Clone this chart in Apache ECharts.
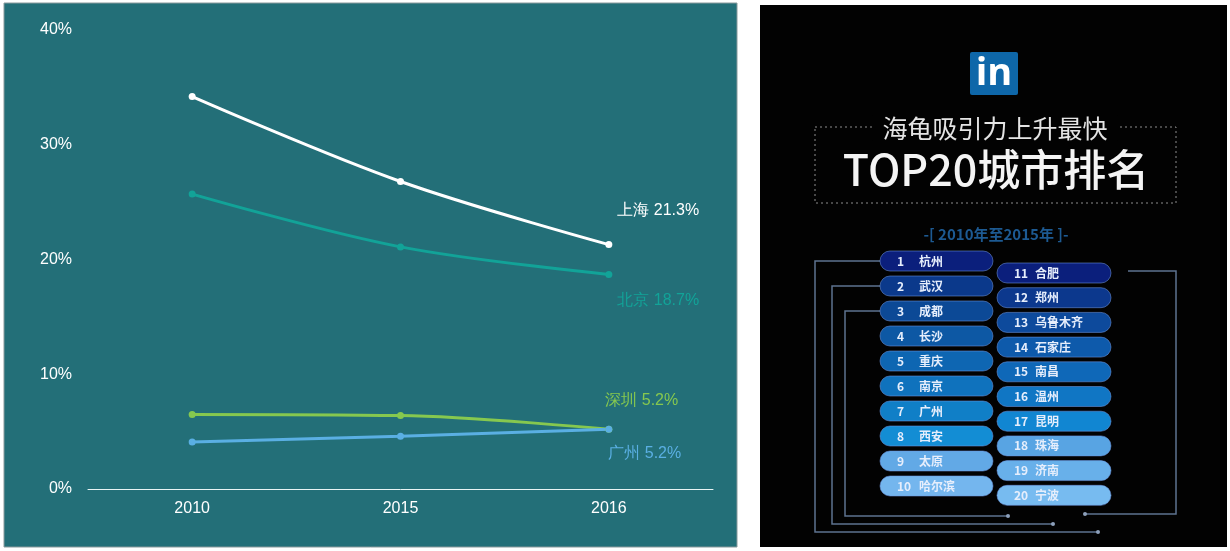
<!DOCTYPE html>
<html>
<head>
    <meta charset="utf-8" />
    <title>海龟城市</title>
    <script src="https://cdn.jsdelivr.net/npm/echarts@6/dist/echarts.min.js"></script>
    <style>
        html, body { margin: 0; padding: 0; background: #fff; }
        #container { width: 1230px; height: 551px; }
    </style>
</head>
<body>
    <div id="container"></div>
    <script>
        // chart data
        var years = ['2010', '2015', '2016'];
        var shanghai = [34.2, 26.8, 21.3];
        var beijing = [25.7, 21.1, 18.7];
        var shenzhen = [6.5, 6.4, 5.2];
        var guangzhou = [4.1, 4.6, 5.2];
        var yTicks = [0, 10, 20, 30, 40];

        // infographic list (rank order)
        var leftCities = ['杭州', '武汉', '成都', '长沙', '重庆', '南京', '广州', '西安', '太原', '哈尔滨'];
        var rightCities = ['合肥', '郑州', '乌鲁木齐', '石家庄', '南昌', '温州', '昆明', '珠海', '济南', '宁波'];

        var leftColors = ['#0b1f7c', '#0b398b', '#0c4996', '#0d58a4', '#0e66b2', '#0f72bd', '#107fc7', '#138dd4', '#62a9e6', '#74b6ee'];
        var rightColors = ['#0b1f7c', '#0c388d', '#0d4a9c', '#0e5aab', '#0f68b8', '#1076c4', '#1186d2', '#58a4e3', '#68b0ea', '#77bbf0'];

        var dom = document.getElementById('container');
        var myChart = echarts.init(dom);

        function endLabel(name, value, color, offset) {
            return {
                value: value,
                label: {
                    show: true,
                    position: 'right',
                    offset: offset,
                    color: color,
                    fontSize: 16,
                    fontFamily: 'Liberation Sans, Arial',
                    formatter: name + ' ' + value + '%'
                }
            };
        }

        function lineSeries(name, data, color, offset) {
            var d = data.slice(0, data.length - 1);
            d.push(endLabel(name, data[data.length - 1], color, offset));
            return {
                name: name,
                type: 'line',
                smooth: 0.35,
                data: d,
                symbol: 'circle',
                symbolSize: 7,
                itemStyle: { color: color },
                lineStyle: { color: color, width: 3 },
                z: 5
            };
        }

        // right panel built with graphic elements
        var g = [];
        g.push({ type: 'rect', shape: { x: 4, y: 3, width: 733, height: 544 }, style: { fill: '#236f78', stroke: '#8a9a9c', lineWidth: 1 }, z: -10 });
        g.push({ type: 'rect', shape: { x: 760, y: 5, width: 467, height: 542 }, style: { fill: '#020202' }, z: -10 });

        // logo
        g.push({ type: 'rect', shape: { x: 970, y: 52, width: 48, height: 43, r: 2 }, style: { fill: '#0e67a9' } });
        g.push({ type: 'text', x: 994, y: 74, style: { text: 'in', fill: '#fff', fontSize: 38, fontWeight: 'bold', fontFamily: 'Open Sans, Arial', align: 'center', verticalAlign: 'middle' } });

        // title box
        g.push({ type: 'rect', shape: { x: 815, y: 127, width: 361, height: 76 }, style: { fill: 'none', stroke: '#8c8c8c', lineWidth: 1, lineDash: [2, 3] } });
        g.push({ type: 'text', x: 995, y: 128, style: { text: '海龟吸引力上升最快', fill: '#e4e4e4', fontSize: 25, fontFamily: 'Noto Sans CJK SC', align: 'center', verticalAlign: 'middle', backgroundColor: '#020202', padding: [0, 10] } });
        g.push({ type: 'text', x: 996, y: 170, style: { text: 'TOP20城市排名', fill: '#f4f4f4', fontSize: 43, fontWeight: 500, fontFamily: 'Noto Sans CJK SC', align: 'center', verticalAlign: 'middle' } });
        g.push({ type: 'text', x: 996, y: 234, style: { text: '-[ 2010年至2015年 ]-', fill: '#1d5a92', fontSize: 15, fontWeight: 'bold', fontFamily: 'Noto Sans CJK SC', align: 'center', verticalAlign: 'middle' } });

        // connectors
        var connColor = '#5e7390';
        var conns = [
            [[880, 261], [815, 261], [815, 532], [1098, 532]],
            [[880, 286], [832, 286], [832, 524], [1053, 524]],
            [[880, 311], [845, 311], [845, 516], [1008, 516]],
            [[1128, 271], [1176, 271], [1176, 514], [1085, 514]]
        ];
        conns.forEach(function (pts) {
            g.push({ type: 'polyline', shape: { points: pts }, style: { stroke: connColor, lineWidth: 1.5, fill: null } });
            var e = pts[pts.length - 1];
            g.push({ type: 'circle', shape: { cx: e[0], cy: e[1], r: 2 }, style: { fill: '#8da0bb' } });
        });

        function pill(x, cy, w, rank, city, color, cityX) {
            g.push({ type: 'rect', shape: { x: x, y: cy - 10, width: w, height: 20, r: 10 }, style: { fill: color, stroke: 'rgba(110,150,225,0.55)', lineWidth: 1 }, z: 2 });
            g.push({ type: 'text', x: x + 17, y: cy, style: { text: String(rank), fill: '#e6eefc', fontSize: 12, fontWeight: 'bold', fontFamily: 'Noto Sans CJK SC', verticalAlign: 'middle' }, z: 3 });
            g.push({ type: 'text', x: cityX, y: cy, style: { text: city, fill: '#e6eefc', fontSize: 12, fontWeight: 'bold', fontFamily: 'Noto Sans CJK SC', verticalAlign: 'middle' }, z: 3 });
        }
        leftCities.forEach(function (c, i) {
            pill(880, 261 + 25 * i, 113, i + 1, c, leftColors[i], 919);
        });
        rightCities.forEach(function (c, i) {
            pill(997, 273 + 24.7 * i, 114, i + 11, c, rightColors[i], 1035);
        });

        var option = {
            backgroundColor: '#ffffff',
            animation: false,
            graphic: g,
            grid: { left: 88, right: 517, top: 30, bottom: 62 },
            xAxis: {
                type: 'category',
                data: years,
                boundaryGap: true,
                axisLine: { lineStyle: { color: '#e8f4f4', width: 1 } },
                axisTick: { show: false },
                axisLabel: { color: '#ffffff', fontSize: 16, margin: 12, fontFamily: 'Liberation Sans, Arial' }
            },
            yAxis: {
                type: 'value',
                min: yTicks[0],
                max: yTicks[yTicks.length - 1],
                interval: 10,
                axisLine: { show: false },
                axisTick: { show: false },
                splitLine: { show: false },
                axisLabel: { color: '#ffffff', fontSize: 16, margin: 16, formatter: '{value}%', fontFamily: 'Liberation Sans, Arial' }
            },
            series: [
                lineSeries('上海', shanghai, '#ffffff', [0, -34]),
                lineSeries('北京', beijing, '#12a398', [0, 26]),
                lineSeries('深圳', shenzhen, '#86c84f', [-12, -29]),
                lineSeries('广州', guangzhou, '#5aafe3', [-9, 24])
            ]
        };
        myChart.setOption(option);
    </script>
</body>
</html>
